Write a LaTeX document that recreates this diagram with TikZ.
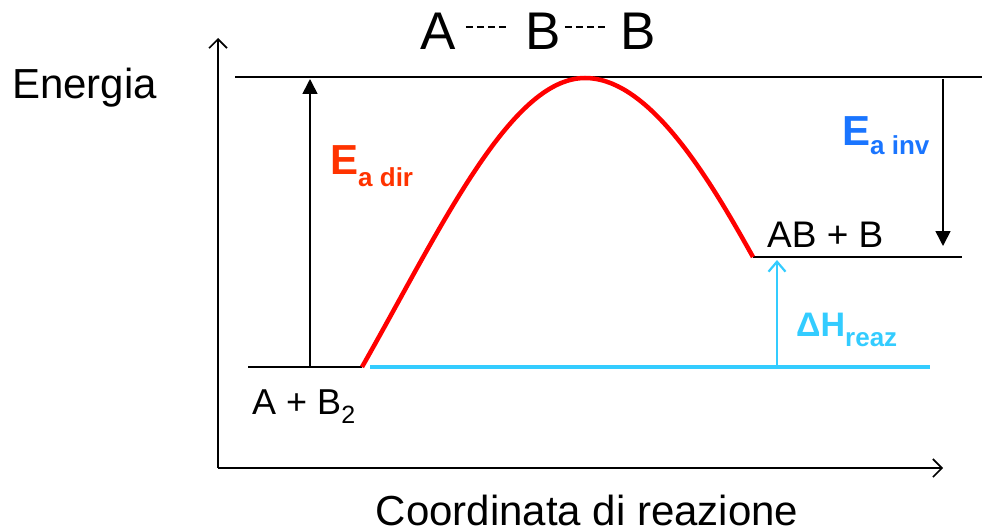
\documentclass[tikz,border=0pt]{standalone}
\usepackage{fontspec}
\setmainfont{Liberation Sans}
\usetikzlibrary{arrows.meta}
\definecolor{eadir}{RGB}{255,51,0}
\definecolor{eainv}{RGB}{26,117,255}
\definecolor{dhcol}{RGB}{51,204,255}
\definecolor{curvered}{RGB}{255,0,0}
\tikzset{
  txt/.style={inner sep=0pt, anchor=base west},
  axis/.style={line width=1.8pt, -{Straight Barb[length=9pt,width=18pt,line width=1.6pt]}},
  level/.style={line width=1.5pt},
  energyarrow/.style={line width=1.6pt, -{Triangle[length=15pt,width=15pt]}},
  dharrow/.style={dhcol, line width=2.5pt, -{Straight Barb[length=10pt,width=17pt,line width=2.2pt]}},
}
\begin{document}
\begin{tikzpicture}[x=1pt,y=-1pt]
\useasboundingbox (0,0) rectangle (982,532);
% axes
\coordinate (O) at (218,468);
\coordinate (Ytop) at (218,38);
\coordinate (Xend) at (943,468);
\draw[axis] (O) -- (Ytop);
\draw[axis] (O) -- (Xend);
% labels
\node[txt] (energia) at (12,99) {\fontsize{42}{42}\selectfont Energia};
\node[anchor=base, inner sep=0pt] (xlab) at (587,525) {\fontsize{42}{42}\selectfont Coordinata di reazione};
% title
\node[txt] (tA) at (420,50) {\fontsize{53}{53}\selectfont A};
\node[txt] (tB1) at (525,50) {\fontsize{53}{53}\selectfont B};
\node[txt] (tB2) at (620,50) {\fontsize{53}{53}\selectfont B};
\draw[line width=1.4pt, dash pattern=on 7pt off 4pt] (tA.east |- 0,27) ++(10,0) -- ++(42,0);
\draw[line width=1.4pt, dash pattern=on 7pt off 4pt] (tB1.east |- 0,27) ++(4,0) -- ++(42,0);
% levels
\coordinate (TopL) at (235,77);
\coordinate (TopR) at (982,77);
\draw[level] (TopL) -- (TopR);
\coordinate (ReL) at (248,367);
\coordinate (ReR) at (362,367);
\draw[level] (ReL) -- (ReR);
\coordinate (PrL) at (753,257);
\coordinate (PrR) at (962,257);
\draw[level] (PrL) -- (PrR);
% cyan baseline
\coordinate (CyL) at (370,367);
\coordinate (CyR) at (930,367);
\draw[dhcol, line width=3.5pt] (CyL) -- (CyR);
% curve
\coordinate (Peak) at (585,78);
\draw[curvered, line width=4.5pt] (ReR) .. controls (440,230) and (510,78) .. (Peak)
  .. controls (650,78) and (710,180) .. (PrL);
% arrows
\coordinate (A1s) at (310,367);
\coordinate (A1e) at (310,79);
\draw[energyarrow] (A1s) -- (A1e);
\coordinate (A2s) at (943,79);
\coordinate (A2e) at (943,246);
\draw[energyarrow] (A2s) -- (A2e);
\coordinate (A3s) at (777,366);
\coordinate (A3e) at (777,260);
\draw[dharrow] (A3s) -- (A3e);
% texts
\node[txt, text=eadir] (eadir) at (330,174) {\fontsize{42}{42}\selectfont\bfseries E\raisebox{-12pt}{\fontsize{26}{26}\selectfont a dir}};
\node[txt, text=eainv] (eainv) at (842,146) {\fontsize{42}{42}\selectfont\bfseries E\raisebox{-9pt}{\fontsize{26}{26}\selectfont a inv}};
\node[txt, text=dhcol] (dh) at (796,336) {\fontsize{34}{34}\selectfont\bfseries ΔH\raisebox{-10pt}{\fontsize{26}{26}\selectfont reaz}};
\node[txt] (prod) at (767,247) {\fontsize{37}{37}\selectfont AB + B};
\node[txt] (reag) at (252,414) {\fontsize{36}{36}\selectfont A + B\raisebox{-9pt}{\fontsize{25}{25}\selectfont 2}};
\end{tikzpicture}
\end{document}
